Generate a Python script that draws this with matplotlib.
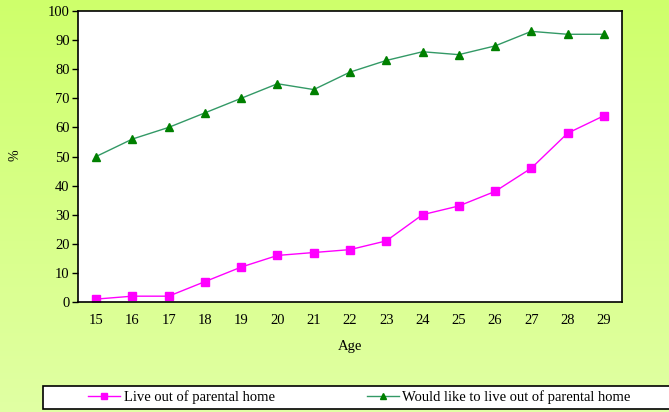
import matplotlib.pyplot as plt
import numpy as np
from matplotlib.patches import Rectangle

plt.rcParams['font.family'] = ['Liberation Serif', 'DejaVu Serif']

# data
ages = [15, 16, 17, 18, 19, 20, 21, 22, 23, 24, 25, 26, 27, 28, 29]
live_out = [1, 2, 2, 7, 12, 16, 17, 18, 21, 30, 33, 38, 46, 58, 64]
would_like = [50, 56, 60, 65, 70, 75, 73, 79, 83, 86, 85, 88, 93, 92, 92]

W, H = 669, 412
fig = plt.figure(figsize=(W / 100, H / 100), dpi=100)

# light green gradient background
bg = fig.add_axes([0, 0, 1, 1], zorder=-10)
top = np.array([0.81, 1.0, 0.42])
bot = np.array([0.88, 1.0, 0.64])
t = np.linspace(0, 1, 256)[:, None]
grad = top + (bot - top) * t
bg.imshow(grad[:, None, :].repeat(2, axis=1), aspect='auto', extent=[0, 1, 0, 1])
bg.axis('off')

ax = fig.add_axes([78 / W, 1 - 302 / H, (622 - 78) / W, (302 - 11) / H])
ax.set_facecolor('white')

ax.plot(ages, live_out, color='#ff00ff', lw=1, marker='s', ms=5.5,
        mfc='#ff00ff', mec='#ff00ff', label='Live out of parental home')
ax.plot(ages, would_like, color='#339966', lw=1, marker='^', ms=6,
        mfc='#008000', mec='#008000', label='Would like to live out of parental home')

ax.set_xlim(14.5, 29.5)
ax.set_ylim(0, 100)
ax.set_yticks(range(0, 101, 10))
ax.set_xticks(ages)
ax.tick_params(axis='y', direction='out', length=4, width=1, labelsize=10.5, pad=2)
ax.tick_params(axis='x', length=0, labelsize=10.5, pad=9)
for s in ax.spines.values():
    s.set_linewidth(1.2)
    s.set_color('black')

ax.set_xlabel('Age', fontsize=10.5, labelpad=9)
fig.text(15 / W, 1 - 155 / H, '%', rotation=90, fontsize=10, ha='center', va='center')

# legend box along the bottom
box = Rectangle((43 / W, 1 - 409 / H), (700 - 43) / W, (409 - 386) / H,
                transform=fig.transFigure, facecolor='white', edgecolor='black', lw=1.2, zorder=5)
fig.add_artist(box)
leg = fig.legend(loc='center left', ncol=2, frameon=False,
                 bbox_to_anchor=(88 / W, 1 - 397.5 / H), fontsize=10.5,
                 handlelength=2.2, handletextpad=0.25, columnspacing=6.3,
                 markerscale=0.8, borderpad=0, borderaxespad=0)
leg.set_zorder(6)

fig.savefig('out.png', dpi=100)
